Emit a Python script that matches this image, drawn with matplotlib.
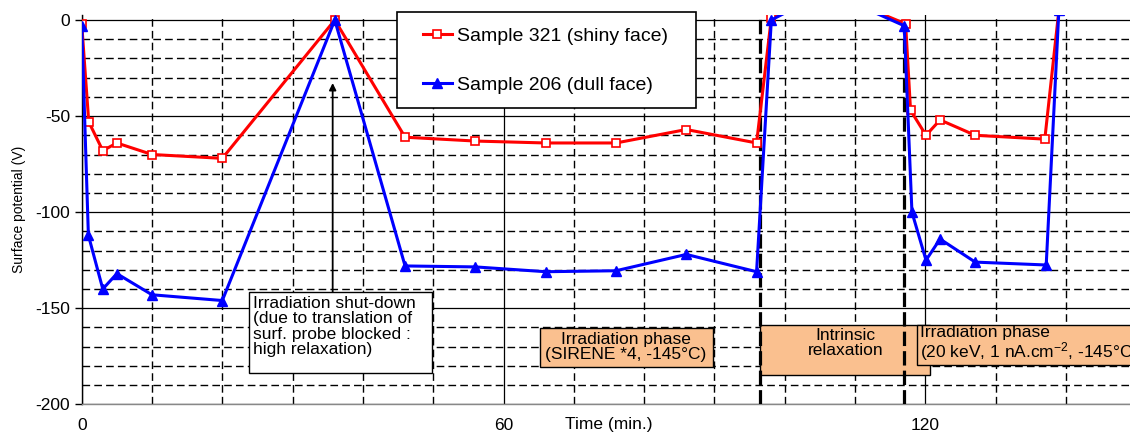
import matplotlib
matplotlib.use("Agg")
import matplotlib.pyplot as plt
from matplotlib.patches import Rectangle
from matplotlib.ticker import MultipleLocator, FixedLocator

plt.rcParams['font.family'] = ['Liberation Sans', 'DejaVu Sans']
plt.rcParams['axes.unicode_minus'] = False
plt.rcParams['mathtext.fontset'] = 'custom'
plt.rcParams['mathtext.rm'] = 'Liberation Sans'
plt.rcParams['mathtext.it'] = 'Liberation Sans:italic'
plt.rcParams['mathtext.bf'] = 'Liberation Sans:bold'

# ---- data (time in minutes, surface potential in V) ----
red_label = "Sample 321 (shiny face)"
red_t = [0, 1.0, 3.0, 5.0, 10, 20, 36, 46, 56, 66, 76, 86, 96, 98.1, 106,
         117.2, 117.9, 120.1, 122.1, 127.1, 137, 139]
red_v = [-2, -53, -68, -64, -70, -72, 0, -61, -63, -64, -64, -57, -64, 1, 15,
         -2, -47, -60, -52, -60, -62, 5]

blue_label = "Sample 206 (dull face)"
blue_t = [0, 0.95, 3, 5, 10, 20, 36, 46, 56, 66, 76, 86, 96, 98.1, 106,
          117, 118.1, 120.1, 122.1, 127.1, 137.2, 139]
blue_v = [-3, -112, -140, -132, -143, -146, 0, -128, -128.5, -131, -130.5, -122, -131, 0, 15,
          -3, -100, -125, -114, -126, -127.5, 5]

phase_bounds = [96.5, 117]
x_ticks = [0, 60, 120]
y_ticks = [-200, -150, -100, -50, 0]

W, H = 1130, 432
fig = plt.figure(figsize=(W / 100, H / 100), dpi=100)
ax = fig.add_axes([81.7 / W, (H - 404.3) / H, (1136.2 - 81.7) / W, (404.3 - 15) / H])
ax.set_xlim(0, 150)
ax.set_ylim(-200, 2.6)

# grid
ax.xaxis.set_major_locator(FixedLocator(x_ticks))
ax.xaxis.set_minor_locator(MultipleLocator(10))
ax.yaxis.set_major_locator(FixedLocator(y_ticks))
ax.yaxis.set_minor_locator(MultipleLocator(10))
ax.grid(which='major', color='black', linewidth=0.9, linestyle='-', zorder=0)
ax.grid(which='minor', color='black', linewidth=1.0, linestyle=(0, (5.5, 3)), zorder=0)
ax.set_axisbelow(True)

for s in ['top', 'right']:
    ax.spines[s].set_visible(False)
ax.spines['left'].set_color('black')
ax.spines['left'].set_linewidth(1.0)
ax.spines['bottom'].set_color('#888888')
ax.spines['bottom'].set_linewidth(1.0)

ax.tick_params(axis='y', which='major', length=5, width=1, direction='out',
               labelsize=12.5, pad=3.5)
ax.tick_params(axis='y', which='minor', length=0)
ax.tick_params(axis='x', which='both', length=0, labelsize=12.5, pad=10)

ax.set_ylabel("Surface potential (V)", fontsize=10)
ax.yaxis.set_label_coords(-0.053, 0.5)
ax.set_xlabel("Time (min.)", fontsize=12.5, va='top')
ax.xaxis.set_label_coords(0.5, -0.033)

# phase boundary lines
for xb in phase_bounds:
    ax.axvline(xb, color='black', linewidth=2.3, linestyle=(0, (4.5, 1.6)), zorder=3)

# data
ax.plot(red_t, red_v, color='#FF0000', linewidth=2.2, marker='s', markersize=6,
        markerfacecolor='white', markeredgecolor='#FF0000', markeredgewidth=1.2,
        zorder=5, label=red_label)
ax.plot(blue_t, blue_v, color='#0000FF', linewidth=2.2, marker='^', markersize=6.5,
        markerfacecolor='#0000FF', markeredgecolor='#0000FF', zorder=6, label=blue_label)

# annotation boxes
orange = '#FAC08F'
ax.add_patch(Rectangle((23.8, -183.7), 49.9 - 23.8, 42.2, facecolor='white',
                       edgecolor='black', linewidth=1.0, zorder=2))
ax.text(24.3, -159.5, "Irradiation shut-down\n(due to translation of\nsurf. probe blocked :\nhigh relaxation)",
        ha='left', va='center', fontsize=12.5, linespacing=1.02, zorder=2.5)
ax.annotate('', xy=(35.7, -32.8), xytext=(35.7, -141.5),
            arrowprops=dict(arrowstyle='-|>', color='black', lw=1.3, mutation_scale=10,
                            shrinkA=0, shrinkB=0), zorder=2.5)

ax.add_patch(Rectangle((65.2, -180.4), 89.8 - 65.2, 20.0, facecolor=orange,
                       edgecolor='black', linewidth=1.0, zorder=2))
ax.text(77.4, -170.1, "Irradiation phase\n(SIRENE *4, -145°C)", ha='center', va='center',
        fontsize=12.5, linespacing=1.02, zorder=2.5)

ax.add_patch(Rectangle((96.5, -184.7), 120.7 - 96.5, 26.0, facecolor=orange,
                       edgecolor='black', linewidth=1.0, zorder=2))
ax.text(108.7, -168.0, "Intrinsic\nrelaxation", ha='center', va='center',
        fontsize=12.5, linespacing=1.02, zorder=2.5)

ax.add_patch(Rectangle((118.8, -179.5), 40, 20.8, facecolor=orange,
                       edgecolor='black', linewidth=1.0, zorder=4))
ax.text(119.2, -168.6, "Irradiation phase\n(20 keV, 1 nA.cm$^{-2}$, -145°C)", ha='left', va='center',
        fontsize=12.5, linespacing=1.02, zorder=4.5)

# legend with a separate frame
frame = Rectangle((397 / W, 1 - 108 / H), 299 / W, 96 / H, transform=fig.transFigure,
                  facecolor='white', edgecolor='black', linewidth=1.2, zorder=7, clip_on=False)
ax.add_patch(frame)
leg = ax.legend(loc='upper left', bbox_to_anchor=(423 / W, 1 - 27 / H),
                bbox_transform=fig.transFigure, frameon=False, fontsize=14,
                borderpad=0, borderaxespad=0, handlelength=1.48, handletextpad=0.26,
                labelspacing=1.62)
leg.set_zorder(8)

fig.savefig("out.png", dpi=100)
